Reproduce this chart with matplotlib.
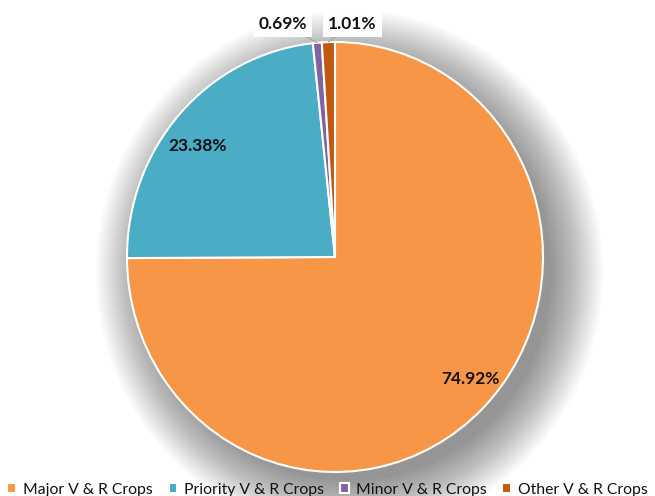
import matplotlib
matplotlib.use("Agg")
import matplotlib.pyplot as plt
from matplotlib.patches import Ellipse
import numpy as np

categories = ["Major V & R Crops", "Priority V & R Crops", "Minor V & R Crops", "Other V & R Crops"]
shares = [74.92, 23.38, 0.69, 1.01]
colors = ["#F79646", "#4BACC6", "#8064A2", "#C0590F"]

plt.rcParams['font.family'] = ['Lato', 'DejaVu Sans']

W, H = 655, 496
fig = plt.figure(figsize=(W / 100, H / 100), dpi=100)

# pie centre / radii in pixels
cx, cy, rx, ry = 335, 257, 208, 215
k = 1.4
ax = fig.add_axes([(cx - rx * k) / W, (H - cy - ry * k) / H, 2 * rx * k / W, 2 * ry * k / H])

# soft drop shadow, mostly to the lower right
for r in np.linspace(0.97, 1.22, 30):
    ax.add_patch(Ellipse((0.07, -0.07), 2 * r, 2 * r, color="black", alpha=0.014, lw=0, zorder=0))

wedges, _ = ax.pie(shares, colors=colors, startangle=90, counterclock=False,
                   wedgeprops=dict(edgecolor="white", linewidth=1.5), radius=1.0)
for w in wedges:
    w.set_zorder(2)
ax.set_aspect('auto')
ax.set_xlim(-k, k)
ax.set_ylim(-k, k)
ax.axis('off')

# labels inside the two large slices (polar position: radius, angle in degrees)
inner_pos = [(0.862, -41.1), (0.837, 141.9)]
for v, (d, a) in zip(shares[:2], inner_pos):
    ang = np.deg2rad(a)
    ax.text(d * np.cos(ang), d * np.sin(ang), f"{v:.2f}%", ha="center", va="center",
            fontsize=12.5, fontweight="bold", color="#111111", zorder=5)

# small slices: boxed labels above the pie
box = dict(boxstyle="square,pad=0.3", fc="white", ec="none")
for w, v, tx in zip(wedges[2:], shares[2:], [-0.25, 0.082]):
    ang = np.deg2rad((w.theta1 + w.theta2) / 2)
    ax.annotate(f"{v:.2f}%", xy=(np.cos(ang), np.sin(ang)), xytext=(tx, 1.085),
                ha="center", va="center", fontsize=12.5, fontweight="bold", color="#111111",
                bbox=box, zorder=5,
                arrowprops=dict(arrowstyle="-", color="#A6A6A6", lw=0.8, shrinkA=0, shrinkB=0))

fig.legend(wedges, categories, loc="lower center", bbox_to_anchor=(0.5, -0.03), ncol=4,
           frameon=False, fontsize=11.3, handlelength=0.55, handleheight=0.55,
           handletextpad=0.45, columnspacing=1.0, labelcolor="#111111")

fig.savefig("out.png", dpi=100)
